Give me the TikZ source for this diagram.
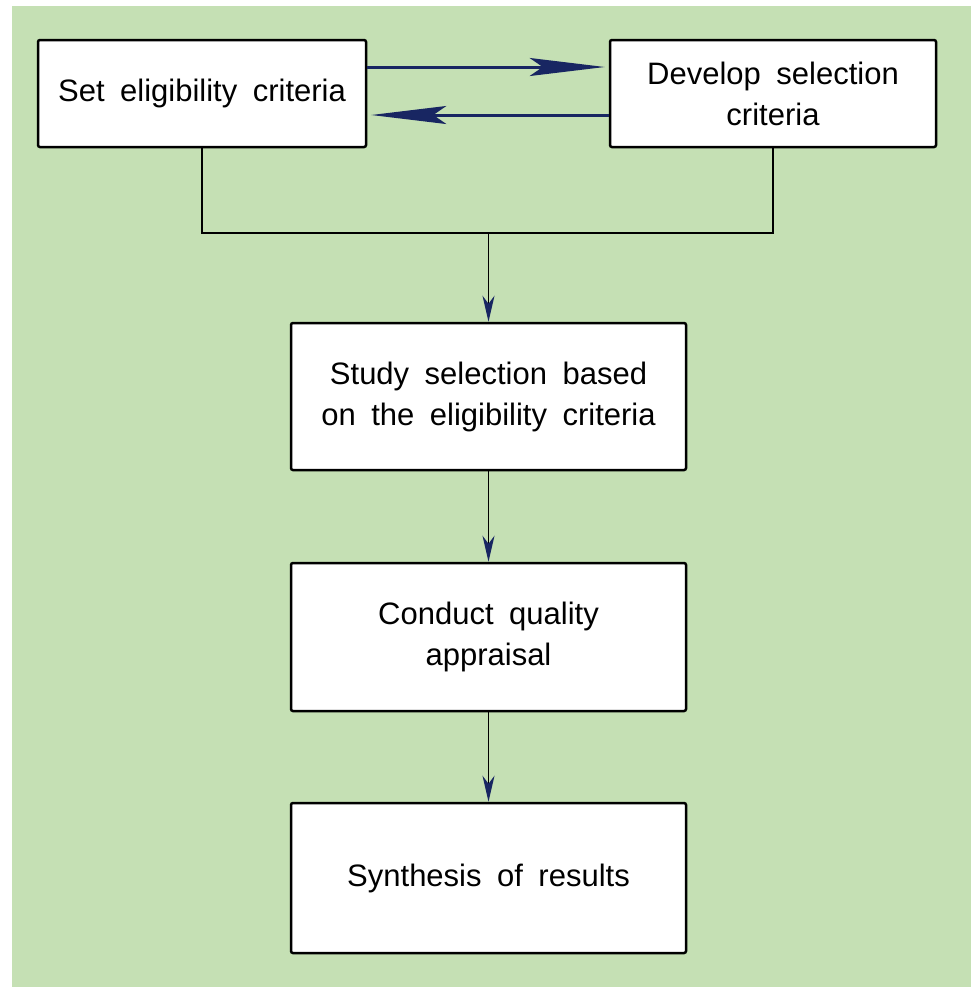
\documentclass[tikz,border=0pt]{standalone}
\usepackage{fontspec}
\setmainfont{Liberation Sans}
\definecolor{PanelGreen}{RGB}{197,224,180}
\definecolor{ArrowNavy}{RGB}{24,38,98}
\usetikzlibrary{positioning,arrows.meta,calc}
\tikzset{>=latex}
\newcommand{\stagefont}{\fontsize{31}{41}\selectfont\spaceskip=0.5em plus 0.1em minus 0.05em\relax}
\tikzset{
  stagebox/.style={draw,line width=2.5pt,rounded corners=2pt,fill=white,align=center,font=\stagefont},
  swaparrow/.style={ArrowNavy,line width=3pt,-{Stealth[length=75pt,width=18pt,inset=13pt]}},
  flowarrow/.style={black,line width=1.5pt,-{Stealth[length=26pt,width=12pt,inset=8pt,color=ArrowNavy]}},
  joinline/.style={black,line width=1.5pt}
}
\begin{document}
\begin{tikzpicture}[x=1pt,y=-1pt]
        % panel
        \useasboundingbox (0,0) rectangle (971,989);
        \fill[PanelGreen] (12,6) rectangle (971,987);
        % criteria boxes
        \node[stagebox,minimum width=328pt,minimum height=107pt] at (202,93.5) (elig) {Set eligibility criteria};
        \node[stagebox,minimum width=326pt,minimum height=107pt] at (773,93.5) (select) {Develop selection\\criteria};
        % main steps
        \node[stagebox,minimum width=395pt,minimum height=147pt] at (488.5,396.5) (study) {Study selection based\\on the eligibility criteria};
        \node[stagebox,minimum width=395pt,minimum height=148pt] at (488.5,637) (quality) {Conduct quality\\appraisal};
        \node[stagebox,minimum width=395pt,minimum height=150pt] at (488.5,878) (synth) {Synthesis of results};
        % back and forth
        \draw[swaparrow,shorten >=4pt] ([yshift=26.5pt]elig.east) -- ([yshift=26.5pt]select.west);
        \draw[swaparrow,shorten >=4pt] ([yshift=-21.5pt]select.west) -- ([yshift=-21.5pt]elig.east);
        % merge
        \coordinate (merge) at (488.5,233);
        \draw[joinline] (elig.south) |- (merge) -| (select.south);
        \draw[flowarrow] (merge) -- (study.north);
        \draw[flowarrow] (study) -- (quality);
        \draw[flowarrow] (quality) -- (synth);
\end{tikzpicture}
\end{document}
